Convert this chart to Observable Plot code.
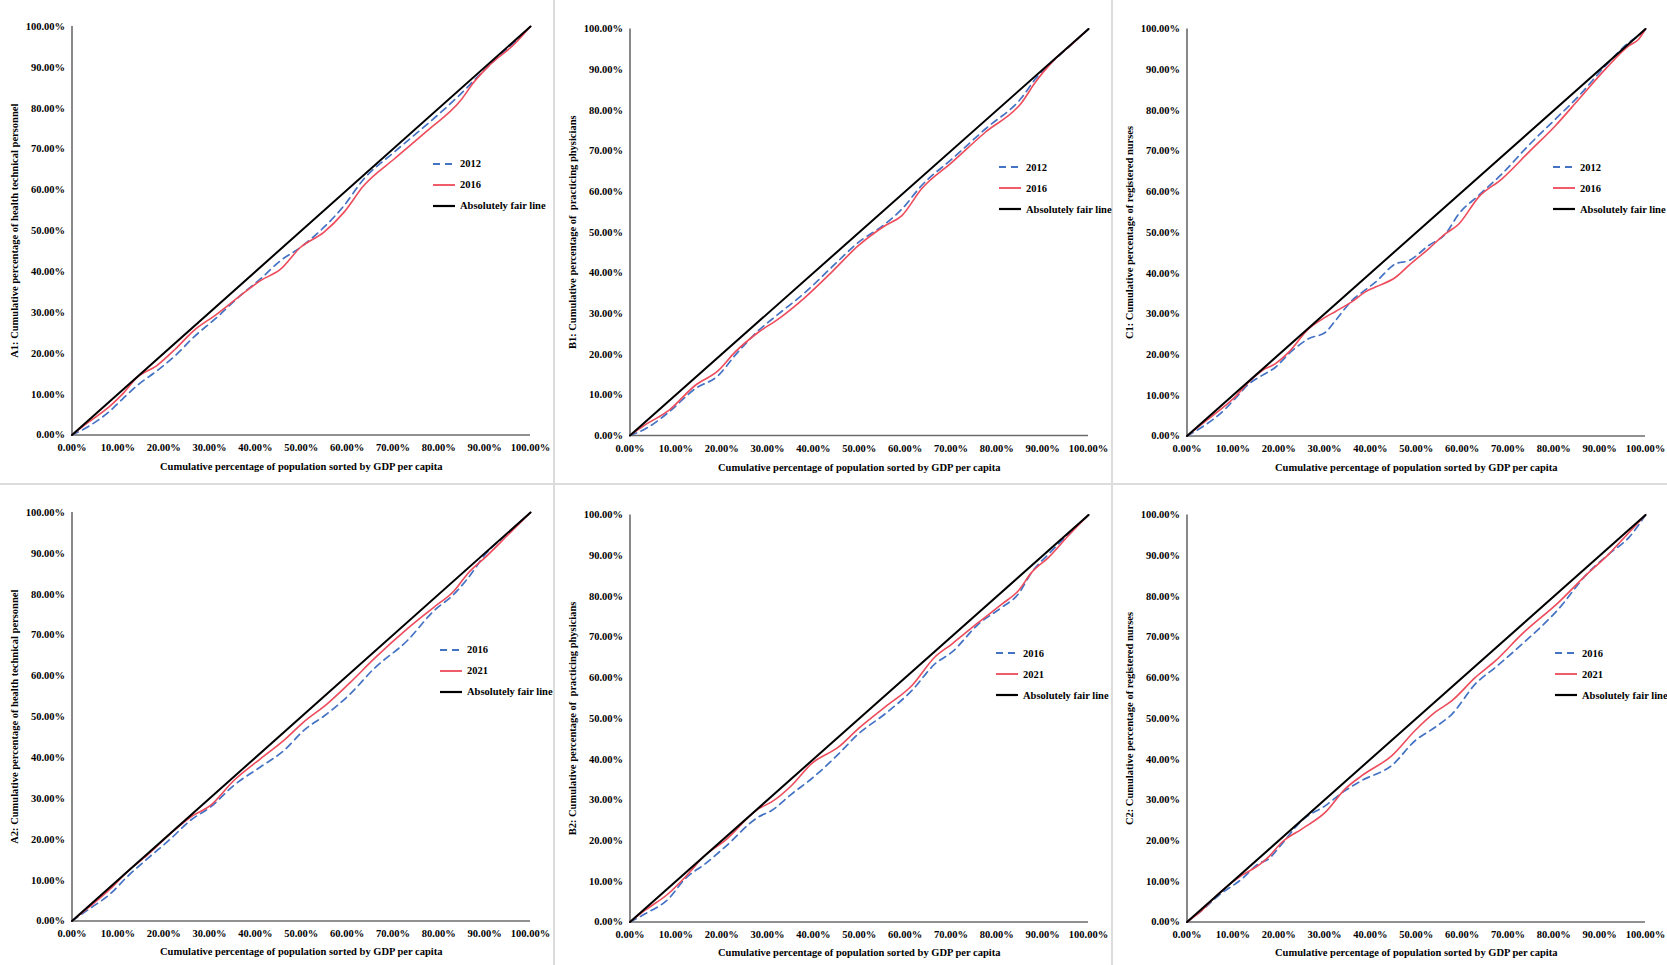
<!DOCTYPE html>
<html>
<head>
<meta charset="utf-8">
<script src="https://cdn.jsdelivr.net/npm/d3@7"></script>
<script src="https://cdn.jsdelivr.net/npm/@observablehq/plot@0.6"></script>
<style>
  body { margin: 0; background: #fff; }
  #root { position: relative; width: 1667px; height: 965px; overflow: hidden; background: #fff;
          font-family: "Liberation Serif", "Times New Roman", serif; font-weight: bold; color: #000; }
  .panel { position: absolute; }
  .vline { position: absolute; top: 0; width: 2px; height: 965px; background: #dcdcdc; }
  .hline { position: absolute; left: 0; height: 2px; width: 1667px; background: #dcdcdc; }
  .lrow { position: absolute; height: 14px; display: flex; align-items: center; font-size: 10.5px; white-space: nowrap; }
  .lrow svg { margin-right: 5px; }
</style>
</head>
<body>
<div id="root">
  <div class="vline" style="left:553px"></div>
  <div class="vline" style="left:1111px"></div>
  <div class="hline" style="top:483px"></div>
</div>
<script>
// ---------- data (cumulative %) ----------
const xTicks = [0, 10, 20, 30, 40, 50, 60, 70, 80, 90, 100];
const yTicks = [0, 10, 20, 30, 40, 50, 60, 70, 80, 90, 100];
const xTitle = "Cumulative percentage of population sorted by GDP per capita";
const fairX = [0, 100];
const fairY = [0, 100];
const fairName = "Absolutely fair line";

// A1: health technical personnel, 2012 vs 2016
const a1X    = [0,3.3,8.4,11,14.2,18.5,22.5,26.5,31.6,36.7,41.1,45.5,49.8,54.9,59.3,63.6,70.2,77.5,84.7,87.6,91.3,96.4,100];
const a1Y2012 = [0,1.9,6.0,8.8,12.1,15.7,19.4,23.9,28.8,34.1,38.2,42.7,45.9,50.8,56.1,62.6,69.2,76.1,83.4,86.7,90.8,96.1,100];
const a1Y2016 = [0,2.9,7.2,10.0,14.1,17.0,21.0,25.5,29.6,34.1,37.8,40.6,45.9,49.6,54.5,61.0,67.5,74.5,81.8,86.3,90.8,95.6,100];

// B1: practicing physicians, 2012 vs 2016
const b1X    = [0,3.3,8.4,14.2,19.3,22.9,28.0,32.4,38.2,44.0,49.8,55.6,59.3,63.6,70.2,77.5,85.5,88.4,92.0,96.4,100];
const b1Y2012 = [0,1.6,5.7,11.5,14.8,19.7,25.8,29.9,35.2,41.4,47.5,52.0,55.7,61.5,68.0,75.4,83.2,87.7,91.8,96.3,100];
const b1Y2016 = [0,2.6,6.1,12.3,16.0,20.5,25.4,28.7,34.0,40.2,46.7,51.6,54.1,60.7,67.2,74.6,82.0,86.9,91.8,96.3,100];

// C1: registered nurses, 2012 vs 2016
const c1X    = [0,3.3,8.4,10.5,13.5,16.4,19.3,22.2,26.5,30.2,32.4,36.0,38.9,41.1,45.5,48.4,52.7,56.4,59.3,63.6,68.7,74.5,80.4,85.5,91.3,96.4,98.5,100];
const c1Y2012 = [0,2.2,6.7,9.2,12.8,14.9,16.9,20.2,23.9,25.5,28.4,33.3,35.9,37.8,42.3,43.1,46.8,49.7,54.6,59.1,64.4,71.4,77.9,83.6,91.0,96.7,98.4,100];
const c1Y2016 = [0,3.0,7.5,9.6,13.3,16.1,17.8,20.6,26.3,29.2,30.6,33.0,35.4,36.6,39.0,41.9,46.0,49.7,52.1,58.7,63.2,69.7,76.3,82.8,90.2,95.9,97.5,100];

// A2: health technical personnel, 2016 vs 2021
const a2X    = [0,3.3,8.4,12.0,16.4,21.5,25.8,30.2,35.3,41.1,46.2,50.5,55.6,60.7,65.8,73.1,78.9,83.3,86.2,90.5,94.9,100];
const a2Y2016 = [0,2.6,6.7,10.8,15.2,20.1,24.6,27.9,33.2,37.7,41.7,46.6,50.7,55.6,61.7,68.6,75.9,80.0,83.7,90.2,94.7,100];
const a2Y2021 = [0,3.0,7.9,12.0,16.1,21.4,25.4,28.3,34.4,39.7,44.2,48.7,53.1,58.4,64.1,71.5,76.8,80.8,84.9,89.4,94.3,100];

// B2: practicing physicians, 2016 vs 2021
const b2X    = [0,3.3,8.4,12.0,16.4,20.7,28.0,30.9,35.3,39.6,45.5,49.8,55.6,61.5,66.5,70.2,76.0,81.1,84.7,87.6,91.3,95.6,100];
const b2Y2016 = [0,2.0,5.7,10.6,14.3,18.4,25.8,27.4,31.5,35.2,41.3,46.2,51.1,56.9,63.4,66.3,73.2,77.3,80.6,85.9,90.4,95.3,100];
const b2Y2021 = [0,2.9,7.0,11.0,16.4,20.0,27.8,29.5,33.6,38.9,43.0,47.5,52.8,58.1,65.1,68.3,73.6,78.1,81.4,85.9,89.6,94.9,100];

// C2: registered nurses, 2016 vs 2021
const c2X    = [0,3.3,6.9,12.0,15.6,17.8,20.7,25.1,30.2,34.5,38.2,44.7,49.8,54.2,57.8,62.9,67.3,73.1,81.1,86.9,92.0,96.4,100];
const c2Y2016 = [0,2.9,6.5,10.6,14.3,15.5,19.2,25.0,28.6,32.3,34.8,38.5,44.6,47.9,51.1,58.5,62.6,68.3,77.0,85.1,90.4,94.5,100];
const c2Y2021 = [0,2.9,7.0,11.5,13.9,16.0,19.6,22.9,27.0,32.7,36.0,40.9,47.1,51.6,54.4,60.1,64.2,70.8,78.6,85.1,90.4,95.7,100];

// ---------- layout ----------
const BLUE = "#4472C4", RED = "#EE4B5B", BLACK = "#000000", AXIS = "#6b6b6b";
const DASH = "7,5";
const fmt = d => d.toFixed(2) + "%";

const panels = [
  {left:0,    top:0,   w:554, h:484, mL:71.5, mR:24, mT:26,   mB:49.5, x:a1X, s1:a1Y2012, s2:a1Y2016, n1:"2012", n2:"2016",
   ylab:"A1: Cumulative percentage of health technical personnel", leg:[433,163.5], xoff:35},
  {left:554,  top:0,   w:558, h:484, mL:75.5, mR:24, mT:28.5, mB:49,   x:b1X, s1:b1Y2012, s2:b1Y2016, n1:"2012", n2:"2016",
   ylab:"B1: Cumulative percentage of  practicing physicians", leg:[999,167], xoff:35},
  {left:1112, top:0,   w:555, h:484, mL:74.5, mR:22, mT:28.5, mB:48.5, x:c1X, s1:c1Y2012, s2:c1Y2016, n1:"2012", n2:"2016",
   ylab:"C1: Cumulative percentage of registered nurses", leg:[1553,167], xoff:35},
  {left:0,    top:484, w:554, h:481, mL:71.5, mR:24, mT:28,   mB:44.5, x:a2X, s1:a2Y2016, s2:a2Y2021, n1:"2016", n2:"2021",
   ylab:"A2: Cumulative percentage of health technical personnel", leg:[440,649.5], xoff:34},
  {left:554,  top:484, w:558, h:481, mL:75.5, mR:24, mT:30.5, mB:43.5, x:b2X, s1:b2Y2016, s2:b2Y2021, n1:"2016", n2:"2021",
   ylab:"B2: Cumulative percentage of  practicing physicians", leg:[996,653], xoff:34},
  {left:1112, top:484, w:555, h:481, mL:74.5, mR:22, mT:30.5, mB:43.5, x:c2X, s1:c2Y2016, s2:c2Y2021, n1:"2016", n2:"2021",
   ylab:"C2: Cumulative percentage of registered nurses", leg:[1555,653], xoff:34}
];

const root = document.getElementById("root");

function toRows(xs, ys) { return xs.map((x, i) => ({x, y: ys[i]})); }

for (const p of panels) {
  const chart = Plot.plot({
    width: p.w, height: p.h,
    marginLeft: p.mL, marginRight: p.mR, marginTop: p.mT, marginBottom: p.mB,
    style: {fontFamily: '"Liberation Serif", "Times New Roman", serif', fontWeight: "bold", fontSize: "10.5px",
            color: "#000", background: "transparent", overflow: "visible"},
    x: {domain: [0, 100], ticks: xTicks, tickFormat: fmt, tickSize: 0, tickPadding: 9,
        label: xTitle, labelAnchor: "center", labelArrow: "none", labelOffset: p.xoff},
    y: {domain: [0, 100], ticks: yTicks, tickFormat: fmt, tickSize: 0, tickPadding: 7,
        label: p.ylab, labelAnchor: "center", labelArrow: "none", labelOffset: 61},
    marks: [
      Plot.ruleX([0], {stroke: AXIS, strokeWidth: 1.6}),
      Plot.ruleY([0], {stroke: AXIS, strokeWidth: 1.6}),
      Plot.line(toRows(p.x, p.s1), {x: "x", y: "y", stroke: BLUE, strokeWidth: 1.7, strokeDasharray: DASH, curve: "monotone-x"}),
      Plot.line(toRows(p.x, p.s2), {x: "x", y: "y", stroke: RED, strokeWidth: 1.6, curve: "monotone-x"}),
      Plot.line(toRows(fairX, fairY), {x: "x", y: "y", stroke: BLACK, strokeWidth: 2})
    ]
  });
  const div = document.createElement("div");
  div.className = "panel";
  div.style.left = p.left + "px";
  div.style.top = p.top + "px";
  div.appendChild(chart);
  root.appendChild(div);

  // legend
  const items = [
    {name: p.n1, color: BLUE, dash: DASH, sw: 1.9},
    {name: p.n2, color: RED, dash: null, sw: 1.8},
    {name: fairName, color: BLACK, dash: null, sw: 2.2}
  ];
  items.forEach((it, i) => {
    const row = document.createElement("div");
    row.className = "lrow";
    row.style.left = p.leg[0] + "px";
    row.style.top = (p.leg[1] + i * 21 - 7) + "px";
    row.innerHTML = `<svg width="22" height="6"><line x1="0" y1="3" x2="22" y2="3" stroke="${it.color}" stroke-width="${it.sw}" ${it.dash ? `stroke-dasharray="${it.dash}"` : ""}/></svg><span>${it.name}</span>`;
    root.appendChild(row);
  });
}
</script>
</body>
</html>
